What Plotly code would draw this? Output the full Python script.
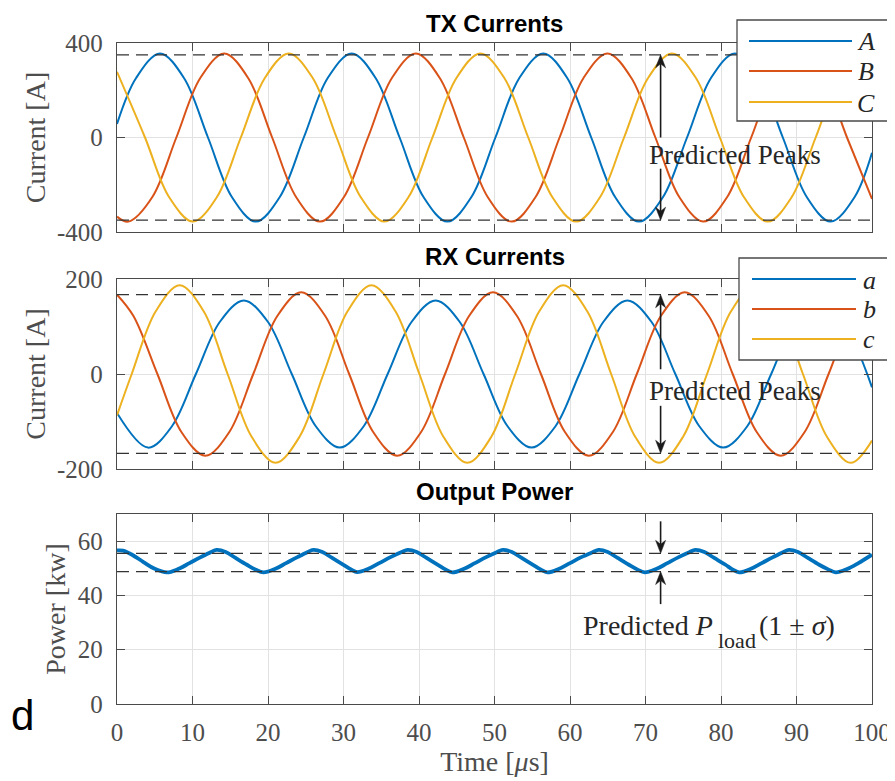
import plotly.graph_objects as go

# ---------------- data ----------------
TX_A_T = [0, 2.53, 5.70, 8.87, 12.05, 15.22, 18.39, 21.56, 24.74, 27.91, 31.08, 34.25, 37.43, 40.60,
          43.77, 46.94, 50.12, 53.29, 56.46, 59.63, 62.81, 65.98, 69.15, 72.32, 75.50, 78.67, 81.84,
          85.01, 88.19, 91.36, 94.53, 97.70, 100]
TX_A = [57, 252, 356, 252, 0, -252, -356, -252, 0, 252, 356, 252, 0, -252, -356, -252, 0, 252, 356,
        252, 0, -252, -356, -252, 0, 252, 356, 252, 0, -252, -356, -252, -65]

TX_B_T = [0, 1.51, 4.68, 7.86, 11.03, 14.20, 17.37, 20.55, 23.72, 26.89, 30.06, 33.24, 36.41, 39.58,
          42.75, 45.93, 49.10, 52.27, 55.44, 58.62, 61.79, 64.96, 68.13, 71.31, 74.48, 77.65, 80.82,
          84.00, 87.17, 90.34, 93.51, 96.69, 100]
TX_B = [-335, -356, -252, 0, 252, 356, 252, 0, -252, -356, -252, 0, 252, 356, 252, 0, -252, -356,
        -252, 0, 252, 356, 252, 0, -252, -356, -252, 0, 252, 356, 252, 0, -260]

TX_C_T = [0, 3.71, 6.89, 10.06, 13.23, 16.40, 19.58, 22.75, 25.92, 29.09, 32.27, 35.44, 38.61, 41.78,
          44.96, 48.13, 51.30, 54.47, 57.65, 60.82, 63.99, 67.16, 70.34, 73.51, 76.68, 79.85, 83.03,
          86.20, 89.37, 92.54, 95.72, 98.89, 100]
TX_C = [278, 0, -252, -356, -252, 0, 252, 356, 252, 0, -252, -356, -252, 0, 252, 356, 252, 0, -252,
        -356, -252, 0, 252, 356, 252, 0, -252, -356, -252, 0, 252, 356, 343]

RX_A_T = [0, 4.10, 7.28, 10.45, 13.63, 16.80, 19.98, 23.15, 26.33, 29.50, 32.68, 35.85, 39.03, 42.20,
          45.38, 48.55, 51.73, 54.90, 58.08, 61.25, 64.43, 67.60, 70.78, 73.95, 77.13, 80.30, 83.48,
          86.65, 89.83, 93.00, 96.18, 100]
RX_A = [-82, -155, -110, 0, 110, 155, 110, 0, -110, -155, -110, 0, 110, 155, 110, 0, -110, -155,
        -110, 0, 110, 155, 110, 0, -110, -155, -110, 0, 110, 155, 110, -28]

RX_B_T = [0, 2.18, 5.35, 8.53, 11.70, 14.88, 18.05, 21.23, 24.40, 27.58, 30.75, 33.93, 37.10, 40.28,
          43.45, 46.63, 49.80, 52.98, 56.15, 59.33, 62.50, 65.68, 68.85, 72.03, 75.20, 78.38, 81.55,
          84.73, 87.90, 91.08, 94.25, 97.43, 100]
RX_B = [167, 122, 0, -122, -172, -122, 0, 122, 172, 122, 0, -122, -172, -122, 0, 122, 172, 122, 0,
        -122, -172, -122, 0, 122, 172, 122, 0, -122, -172, -122, 0, 122, 168]

RX_C_T = [0, 1.95, 5.13, 8.30, 11.48, 14.65, 17.83, 21.00, 24.18, 27.35, 30.53, 33.70, 36.88, 40.05,
          43.23, 46.40, 49.58, 52.75, 55.93, 59.10, 62.28, 65.45, 68.63, 71.80, 74.98, 78.15, 81.33,
          84.50, 87.68, 90.85, 94.03, 97.20, 100]
RX_C = [-87, 0, 132, 187, 132, 0, -132, -187, -132, 0, 132, 187, 132, 0, -132, -187, -132, 0, 132,
        187, 132, 0, -132, -187, -132, 0, 132, 187, 132, 0, -132, -187, -140]

P_T = [0, 0.8, 2.0, 3.5, 5.0, 6.6, 8.1, 9.6, 11.1, 12.4, 13.2, 14.4, 15.7, 17.2, 18.3, 19.4, 20.9,
       22.4, 23.9, 25.2, 26.0, 27.2, 28.5, 30.0, 31.0, 31.8, 33.3, 34.8, 36.3, 37.7, 38.5, 39.7,
       41.0, 42.5, 43.5, 44.4, 45.9, 47.4, 48.9, 50.3, 51.1, 52.3, 53.6, 55.1, 56.1, 57.0, 58.5,
       60.0, 61.5, 63.0, 63.8, 65.0, 66.3, 67.8, 68.9, 69.9, 71.4, 72.9, 74.4, 75.8, 76.6, 77.8,
       79.1, 80.6, 81.5, 82.4, 83.9, 85.4, 86.9, 88.2, 89.0, 90.2, 91.5, 93.0, 94.2, 95.2, 96.7,
       98.2, 100]
P_KW = [56.6, 56.5, 55.0, 52.3, 49.8, 48.5, 49.7, 51.9, 54.1, 55.9, 56.8, 56.0, 53.8, 51.3, 49.6,
        48.5, 49.7, 51.9, 54.1, 55.9, 56.8, 56.0, 53.8, 51.3, 49.6, 48.6, 49.8, 52.0, 54.2, 56.0,
        56.8, 56.0, 53.8, 51.3, 49.6, 48.5, 49.7, 51.9, 54.1, 55.9, 56.8, 56.0, 53.8, 51.3, 49.6,
        48.5, 49.7, 51.9, 54.1, 55.9, 56.8, 56.0, 53.8, 51.3, 49.6, 48.5, 49.7, 51.9, 54.1, 55.9,
        56.8, 56.0, 53.8, 51.3, 49.6, 48.5, 49.7, 51.9, 54.1, 55.9, 56.8, 56.0, 53.8, 51.3, 49.6,
        48.5, 49.7, 51.9, 55.0]

TX_PEAK = [350, -350]
RX_PEAK = [167, -167]
P_BAND = [55.5, 48.8]

TX_TICKS = [-400, 0, 400]
RX_TICKS = [-200, 0, 200]
P_TICKS = [0, 20, 40, 60]
T_TICKS = [0, 10, 20, 30, 40, 50, 60, 70, 80, 90, 100]

TX_NAMES = ["A", "B", "C"]
RX_NAMES = ["a", "b", "c"]

# ---------------- style ----------------
BLUE, RED, YEL = "#0072BD", "#D95319", "#EDB120"
COLORS = [BLUE, RED, YEL]
AXC = "#4a4a4a"
TXTC = "#4d4d4d"
INK = "#262626"
SERIF = "Liberation Serif, Times New Roman, serif"
SANS = "Liberation Sans, Arial, sans-serif"

W, H = 895, 781
OFF = 8                      # page body margin of the browser
L, R, T, B = 117, 872, 43, 704   # plot area in screen pixels


def px_x(p):
    return (p - L) / (R - L)


def px_y(p):
    return (B - p) / (B - T)


fig = go.Figure()

def add_lines(ts, ys, colors, xa, ya, width=2.0):
    for t, y, c in zip(ts, ys, colors):
        fig.add_trace(go.Scatter(x=t, y=y, mode="lines", xaxis=xa, yaxis=ya, showlegend=False,
                                 line=dict(color=c, width=width, shape="spline", smoothing=1)))

add_lines([TX_A_T, TX_B_T, TX_C_T], [TX_A, TX_B, TX_C], COLORS, "x", "y")
add_lines([RX_A_T, RX_B_T, RX_C_T], [RX_A, RX_B, RX_C], COLORS, "x2", "y2")
add_lines([P_T], [P_KW], [BLUE], "x3", "y3", width=3.8)

xcommon = dict(range=[0, 100], tickvals=T_TICKS, ticktext=[str(v) for v in T_TICKS],
               showline=True, linecolor=AXC, linewidth=1.3, mirror="ticks", ticks="inside",
               ticklen=8, tickwidth=1.2, tickcolor=AXC, showgrid=True, gridcolor="#e2e2e2",
               gridwidth=1, zeroline=False,
               tickfont=dict(family=SERIF, size=25, color=TXTC))
ycommon = dict(showline=True, linecolor=AXC, linewidth=1.3, mirror="ticks", ticks="inside",
               ticklen=8, tickwidth=1.2, tickcolor=AXC, showgrid=True, gridcolor="#e2e2e2",
               gridwidth=1, zeroline=False, ticklabelstandoff=8,
               tickfont=dict(family=SERIF, size=25, color=TXTC))

D1 = [px_y(232), 1.0]
D2 = [px_y(469), px_y(279)]
D3 = [0.0, px_y(514)]
Y_RANGES = {"y": (-400, 400), "y2": (-200, 200), "y3": (0, 70)}
Y_PIX = {"y": 232 - 43, "y2": 469 - 279, "y3": 704 - 514}

ytitle_font = dict(family=SERIF, size=28, color=TXTC)

fig.update_layout(
    width=W, height=H,
    margin=dict(l=L - OFF, r=W - (R - OFF), t=T - OFF, b=H - (B - OFF), autoexpand=False),
    paper_bgcolor="white", plot_bgcolor="white",
    xaxis=dict(xcommon, domain=[0, 1], anchor="y", showticklabels=False),
    yaxis=dict(ycommon, domain=D1, anchor="x", range=list(Y_RANGES["y"]), tickvals=TX_TICKS,
               ticktext=[str(v) for v in TX_TICKS],
               title=dict(text="Current [A]", font=ytitle_font, standoff=3)),
    xaxis2=dict(xcommon, domain=[0, 1], anchor="y2", showticklabels=False),
    yaxis2=dict(ycommon, domain=D2, anchor="x2", range=list(Y_RANGES["y2"]), tickvals=RX_TICKS,
                ticktext=[str(v) for v in RX_TICKS],
                title=dict(text="Current [A]", font=ytitle_font, standoff=3)),
    xaxis3=dict(xcommon, domain=[0, 1], anchor="y3", ticklabelstandoff=6,
                title=dict(text="Time [<i>μ</i>s]", font=ytitle_font, standoff=2)),
    yaxis3=dict(ycommon, domain=D3, anchor="x3", range=list(Y_RANGES["y3"]), tickvals=P_TICKS,
                ticktext=[str(v) for v in P_TICKS],
                title=dict(text="Power [kw]", font=ytitle_font, standoff=4)),
)

shapes = []
dash = "12px,7px"
for ya, vals in (("y", TX_PEAK), ("y2", RX_PEAK), ("y3", P_BAND)):
    xr = "x" + ya[1:] + " domain"
    for v in vals:
        shapes.append(dict(type="line", xref=xr, yref=ya, x0=0, x1=1, y0=v, y1=v, layer="above",
                           line=dict(color="#333333", width=1.3, dash=dash)))

annotations = []

def legend(box, line_ys, x_line, x_lab, names):
    x0, x1, y0, y1 = box
    shapes.append(dict(type="rect", xref="paper", yref="paper", x0=px_x(x0), x1=px_x(x1),
                       y0=px_y(y1), y1=px_y(y0), fillcolor="white", layer="above",
                       line=dict(color=AXC, width=1.3)))
    for yy, c, n in zip(line_ys, COLORS, names):
        shapes.append(dict(type="line", xref="paper", yref="paper", x0=px_x(x_line[0]),
                           x1=px_x(x_line[1]), y0=px_y(yy), y1=px_y(yy), layer="above",
                           line=dict(color=c, width=2)))
        annotations.append(dict(xref="paper", yref="paper", x=px_x(x_lab), y=px_y(yy + 1),
                                text=f"<i>{n}</i>", showarrow=False, xanchor="center",
                                yanchor="middle", font=dict(family=SERIF, size=26, color=INK)))

legend((737, 888, 20, 121), [41, 71, 102], (749, 852), 866, TX_NAMES)
legend((739, 889, 258, 360), [279, 309, 339], (752, 856), 869, RX_NAMES)

# subplot titles
TITLE_POS = (("TX Currents", 8.5, "top"), ("RX Currents", 256, "middle"),
             ("Output Power", 491.5, "middle"))
for txt, yc, anc in TITLE_POS:
    annotations.append(dict(xref="paper", yref="paper", x=0.5, y=px_y(yc), text=f"<b>{txt}</b>",
                            showarrow=False, xanchor="center", yanchor=anc,
                            font=dict(family=SANS, size=24, color="black")))

# arrows (drawn as shapes: shaft + notched head)
ARROW_T = 72
XU = 100 / (R - L)          # data units per pixel along x


def arrow(ya, tail, tip):
    xa = "x" + ya[1:]
    lo, hi = Y_RANGES[ya]
    yu = (hi - lo) / Y_PIX[ya]
    sgn = 1 if tip > tail else -1
    hl, hw, notch = 13 * yu, 5 * XU, 9 * yu
    xs, ys = ARROW_T, tip
    shapes.append(dict(type="line", xref=xa, yref=ya, x0=xs, x1=xs, y0=tail, y1=tip - sgn * notch,
                       layer="above", line=dict(color="#1a1a1a", width=1.6)))
    path = (f"M {xs},{ys} L {xs - hw},{ys - sgn * hl} L {xs},{ys - sgn * notch} "
            f"L {xs + hw},{ys - sgn * hl} Z")
    shapes.append(dict(type="path", xref=xa, yref=ya, path=path, layer="above",
                       fillcolor="#1a1a1a", line=dict(color="#1a1a1a", width=0.5)))

arrow("y", 0, TX_PEAK[0])
arrow("y", -132, TX_PEAK[1])
arrow("y2", 10, RX_PEAK[0])
arrow("y2", -67, RX_PEAK[1])
arrow("y3", 67.3, P_BAND[0])
arrow("y3", 36.8, P_BAND[1])

annotations.append(dict(xref="x", yref="paper", x=81.9, y=px_y(155), text="Predicted Peaks",
                        showarrow=False, xanchor="center", yanchor="middle",
                        font=dict(family=SERIF, size=27, color=INK)))
annotations.append(dict(xref="x2", yref="paper", x=81.9, y=px_y(391), text="Predicted Peaks",
                        showarrow=False, xanchor="center", yanchor="middle",
                        font=dict(family=SERIF, size=27, color=INK)))
# "Predicted P_load(1 ± σ)" built from three pieces so the subscript sits like the original
annotations.append(dict(xref="paper", yref="paper", x=px_x(582), y=px_y(625),
                        text="Predicted <i>P</i>", showarrow=False, xanchor="left",
                        yanchor="middle", borderpad=0,
                        font=dict(family=SERIF, size=28, color=INK)))
annotations.append(dict(xref="paper", yref="paper", x=px_x(717), y=px_y(640),
                        text="load", showarrow=False, xanchor="left", borderpad=0,
                        yanchor="middle", font=dict(family=SERIF, size=22, color=INK)))
annotations.append(dict(xref="paper", yref="paper", x=px_x(758), y=px_y(625),
                        text="(1 ± <i>σ</i>)", showarrow=False, xanchor="left", borderpad=0,
                        yanchor="middle", font=dict(family=SERIF, size=28, color=INK)))

# panel letter (moved just inside the page so it is not cut)
annotations.append(dict(xref="paper", yref="paper", x=px_x(OFF + 1), y=px_y(715), text="d",
                        showarrow=False, xanchor="left", yanchor="middle",
                        font=dict(family=SANS, size=42, color="black")))

fig.update_layout(shapes=shapes, annotations=annotations)
fig.write_html("out.html")
